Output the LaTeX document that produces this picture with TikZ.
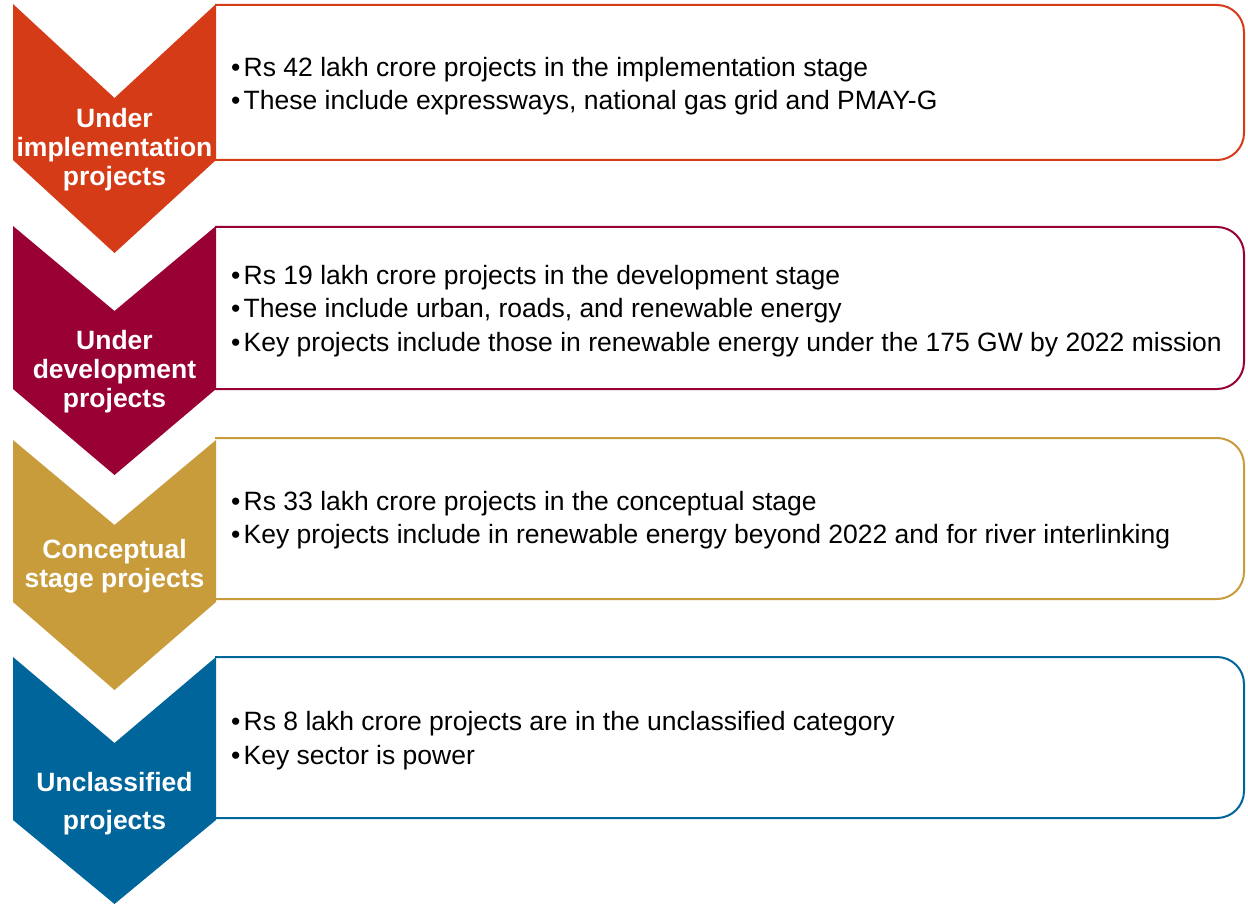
\documentclass[tikz,border=0pt]{standalone}
\usepackage{fontspec}
\setmainfont{Liberation Sans}
\definecolor{cOne}{RGB}{214,59,24}
\definecolor{cTwo}{RGB}{153,0,51}
\definecolor{cThree}{RGB}{200,155,59}
\definecolor{cFour}{RGB}{0,101,155}
\tikzset{
  boxline/.style={line width=2pt, rounded corners=27pt},
  bodytxt/.style={anchor=base west, inner sep=0pt, font=\fontsize{26.5}{30}\selectfont, text=black},
  bullettxt/.style={anchor=base, inner sep=0pt, font=\fontsize{26.5}{30}\selectfont, text=black},
  labeltxt/.style={anchor=base, inner sep=0pt, font=\fontsize{26.5}{30}\selectfont\bfseries, text=white},
}
\begin{document}
\begin{tikzpicture}[x=1pt,y=-1pt]
\useasboundingbox (0,0) rectangle (1248,904);
% ---------- boxes ----------
\draw[boxline, cOne]   (215,5)   -- (1244,5)   -- (1244,160) -- (215,160);
\draw[boxline, cTwo]   (215,227) -- (1244,227) -- (1244,389) -- (215,389);
\draw[boxline, cThree] (215,438) -- (1244,438) -- (1244,599) -- (215,599);
\draw[boxline, cFour]  (215,657) -- (1244,657) -- (1244,818) -- (215,818);
% ---------- chevrons ----------
\fill[cOne]   (13,4)   -- (114.5,98)  -- (216,4)   -- (216,160) -- (114.5,253) -- (13,160) -- cycle;
\fill[cTwo]   (13,226) -- (114.5,311) -- (216,226) -- (216,389) -- (114.5,475) -- (13,389) -- cycle;
\fill[cThree] (13,440) -- (114.5,525) -- (216,440) -- (216,602) -- (114.5,690) -- (13,602) -- cycle;
\fill[cFour]  (13,657) -- (114.5,743) -- (216,657) -- (216,820) -- (114.5,904) -- (13,820) -- cycle;
% ---------- chevron labels ----------
\node[labeltxt] (l1a) at (114.5,128) {Under};
\node[labeltxt] (l1b) at (114.5,157) {implementation};
\node[labeltxt] (l1c) at (114.5,186) {projects};
\node[labeltxt] (l2a) at (114.5,349) {Under};
\node[labeltxt] (l2b) at (114.5,378) {development};
\node[labeltxt] (l2c) at (114.5,407) {projects};
\node[labeltxt] (l3a) at (114.5,558) {Conceptual};
\node[labeltxt] (l3b) at (114.5,587) {stage projects};
\node[labeltxt] (l4a) at (114.5,791) {Unclassified};
\node[labeltxt] (l4b) at (114.5,829) {projects};
% ---------- box texts ----------
\node[bullettxt] (b1a) at (235.7,76.5) {•};
\node[bodytxt] (t1a) at (243.5,76.5) {Rs 42 lakh crore projects in the implementation stage};
\node[bullettxt] (b1b) at (235.7,110) {•};
\node[bodytxt] (t1b) at (243.5,110) {These include expressways, national gas grid and PMAY-G};
\node[bullettxt] (b2a) at (235.7,284) {•};
\node[bodytxt] (t2a) at (243.5,284) {Rs 19 lakh crore projects in the development stage};
\node[bullettxt] (b2b) at (235.7,317.5) {•};
\node[bodytxt] (t2b) at (243.5,317.5) {These include urban, roads, and renewable energy};
\node[bullettxt] (b2c) at (235.7,351) {•};
\node[bodytxt] (t2c) at (243.5,351) {Key projects include those in renewable energy under the 175 GW by 2022 mission};
\node[bullettxt] (b3a) at (235.7,510) {•};
\node[bodytxt] (t3a) at (243.5,510) {Rs 33 lakh crore projects in the conceptual stage};
\node[bullettxt] (b3b) at (235.7,543.5) {•};
\node[bodytxt] (t3b) at (243.5,543.5) {Key projects include in renewable energy beyond 2022 and for river interlinking};
\node[bullettxt] (b4a) at (235.7,730) {•};
\node[bodytxt] (t4a) at (243.5,730) {Rs 8 lakh crore projects are in the unclassified category};
\node[bullettxt] (b4b) at (235.7,764) {•};
\node[bodytxt] (t4b) at (243.5,764) {Key sector is power};
\end{tikzpicture}
\end{document}
